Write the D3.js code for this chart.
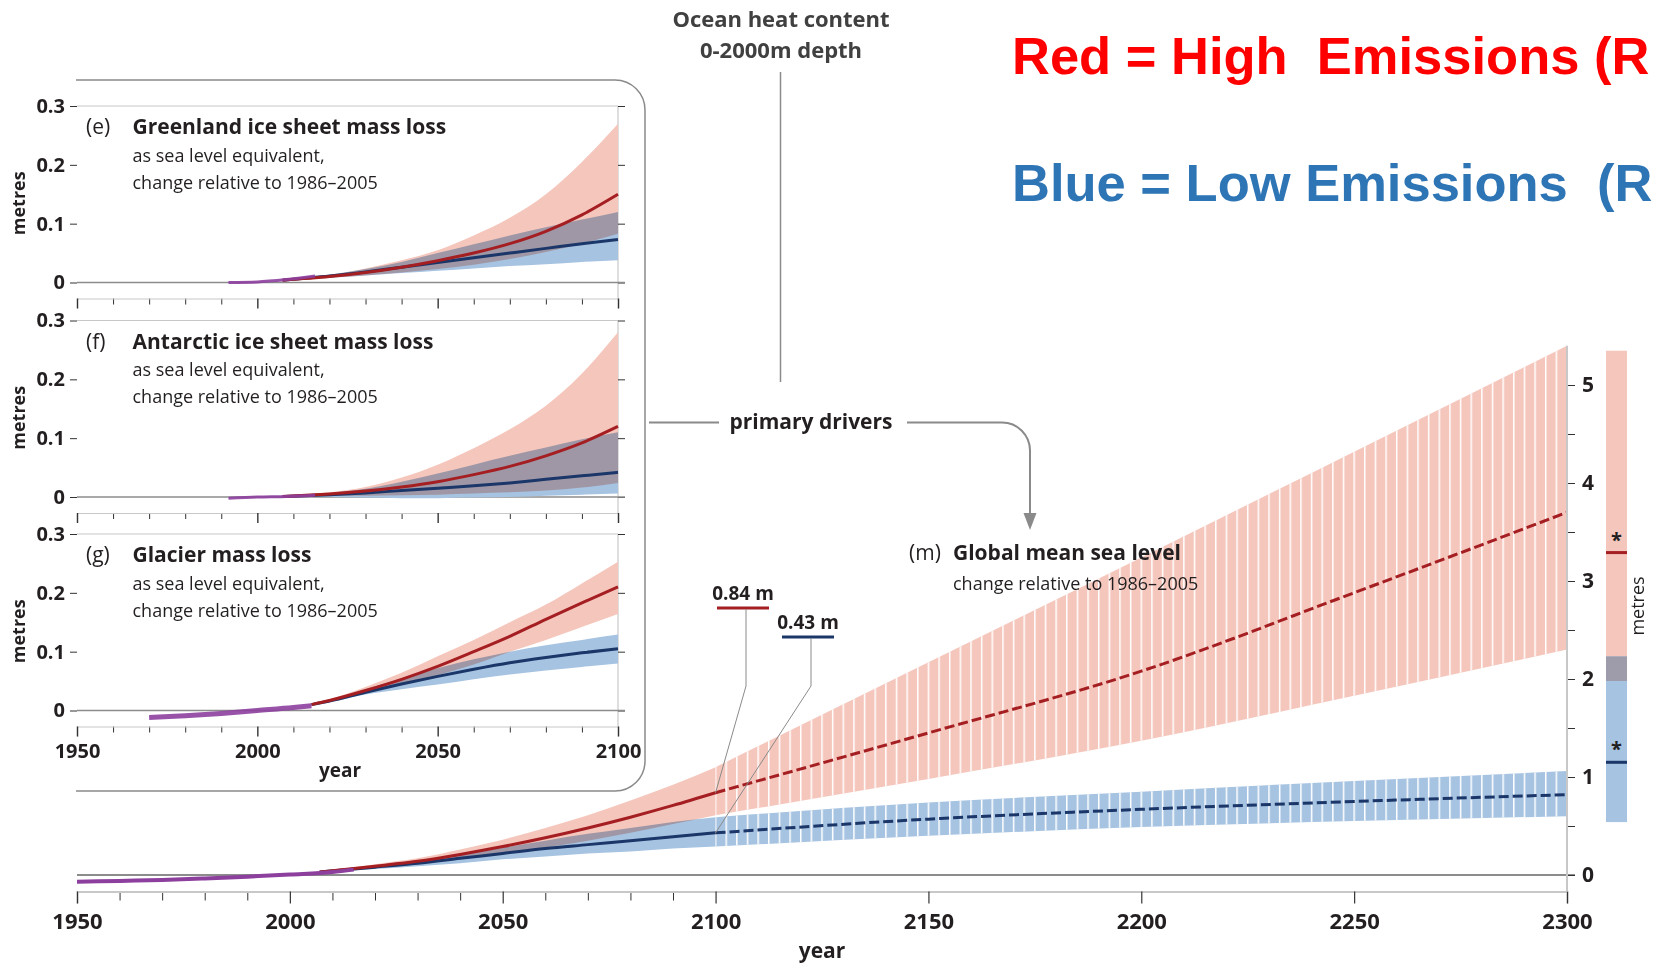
<!DOCTYPE html>
<html><head><meta charset="utf-8">
<script src="https://cdn.jsdelivr.net/npm/d3@7"></script>
<style>
html,body{margin:0;padding:0;background:#fff;overflow:hidden;}
svg{display:block;font-family:"Open Sans","Noto Sans",sans-serif;}
</style></head><body>
<svg id="chart" width="1654" height="963"></svg>
<script>
// ---------------- DATA ----------------
// (m) Global mean sea level – observations
const gmslObsYears  = [1950,1960,1970,1980,1990,2000,2010,2015];
const gmslObsValues = [-0.07,-0.06,-0.05,-0.035,-0.017,0.005,0.03,0.055];
// projections to 2100
const gmslYears   = [2007,2020,2030,2040,2050,2060,2070,2080,2090,2100];
const gmslHighMed = [0.03,0.09,0.14,0.21,0.29,0.38,0.48,0.59,0.71,0.84];
const gmslHighLo  = [0.03,0.07,0.11,0.16,0.22,0.28,0.35,0.43,0.52,0.61];
const gmslHighHi  = [0.03,0.11,0.17,0.26,0.36,0.48,0.61,0.76,0.92,1.10];
const gmslLowMed  = [0.03,0.08,0.12,0.17,0.22,0.27,0.31,0.35,0.39,0.43];
const gmslLowLo   = [0.03,0.06,0.09,0.12,0.16,0.19,0.22,0.24,0.27,0.29];
const gmslLowHi   = [0.03,0.10,0.15,0.21,0.28,0.35,0.42,0.48,0.54,0.59];
// extension 2100–2300
const extYears    = [2100,2150,2200,2250,2300];
const extHighMed  = [0.84,1.45,2.08,2.88,3.70];
const extHighLo   = [0.61,0.98,1.37,1.83,2.30];
const extHighHi   = [1.10,2.17,3.24,4.32,5.40];
const extLowMed   = [0.43,0.57,0.67,0.75,0.82];
const extLowLo    = [0.29,0.40,0.49,0.55,0.60];
const extLowHi    = [0.59,0.74,0.85,0.96,1.06];
// right-hand bar (metres)
const barHighRange = [1.98,5.35];
const barLowRange  = [0.54,2.23];
const barHighMark  = 3.29;
const barLowMark   = 1.15;
// axis ticks
const mainMajorTicks = [1950,2000,2050,2100,2150,2200,2250,2300];
const mainMinorTicks = [1960,1970,1980,1990,2010,2020,2030,2040,2060,2070,2080,2090];
const mainYTicks     = [0,1,2,3,4,5];
const mainYMinor     = [0.5,1.5,2.5,3.5,4.5];
const insetMajorTicks = [1950,2000,2050,2100];
const insetMinorTicks = [1960,1970,1980,1990,2010,2020,2030,2040,2060,2070,2080,2090];
const insetYTicks     = [0,0.1,0.2,0.3];

// (e) Greenland
const grYears   = [2007,2020,2030,2040,2050,2060,2070,2080,2090,2100];
const grHighMed = [0.004,0.010,0.017,0.026,0.037,0.050,0.066,0.087,0.115,0.150];
const grHighLo  = [0.004,0.008,0.012,0.017,0.023,0.030,0.040,0.052,0.066,0.083];
const grHighHi  = [0.004,0.013,0.024,0.038,0.055,0.080,0.110,0.150,0.205,0.270];
const grLowMed  = [0.004,0.011,0.018,0.026,0.034,0.042,0.050,0.058,0.066,0.073];
const grLowLo   = [0.004,0.008,0.012,0.016,0.020,0.024,0.028,0.031,0.035,0.038];
const grLowHi   = [0.004,0.013,0.023,0.035,0.050,0.065,0.080,0.094,0.107,0.120];
const grObsYears  = [1992,2000,2008,2016];
const grObsValues = [0.000,0.001,0.005,0.011];
// (f) Antarctic
const anYears   = [2007,2020,2030,2040,2050,2060,2070,2080,2090,2100];
const anHighMed = [0.001,0.005,0.010,0.017,0.026,0.038,0.052,0.070,0.092,0.120];
const anHighLo  = [0.001,0.002,0.002,0.003,0.004,0.006,0.008,0.011,0.016,0.024];
const anHighHi  = [0.001,0.008,0.017,0.033,0.055,0.083,0.115,0.155,0.210,0.280];
const anLowMed  = [0.001,0.004,0.007,0.011,0.015,0.019,0.024,0.030,0.036,0.042];
const anLowLo   = [0.001,0.000,-0.001,-0.002,-0.002,-0.001,0.000,0.002,0.004,0.006];
const anLowHi   = [0.001,0.007,0.014,0.026,0.040,0.055,0.070,0.084,0.098,0.110];
const anObsYears  = [1992,2000,2008,2016];
const anObsValues = [-0.002,0.000,0.001,0.003];
// (g) Glaciers
const glYears   = [2015,2020,2030,2040,2050,2060,2070,2080,2090,2100];
const glHighMed = [0.010,0.017,0.034,0.053,0.075,0.100,0.126,0.155,0.183,0.210];
const glHighLo  = [0.010,0.015,0.029,0.044,0.060,0.078,0.100,0.120,0.142,0.164];
const glHighHi  = [0.010,0.019,0.040,0.064,0.092,0.120,0.150,0.180,0.216,0.253];
const glLowMed  = [0.010,0.016,0.031,0.045,0.058,0.070,0.081,0.090,0.098,0.105];
const glLowLo   = [0.010,0.014,0.027,0.036,0.044,0.053,0.061,0.068,0.074,0.080];
const glLowHi   = [0.010,0.018,0.036,0.055,0.072,0.087,0.100,0.111,0.120,0.129];
const glObsYears  = [1970,1980,1990,2000,2010,2015];
const glObsValues = [-0.012,-0.009,-0.005,0.000,0.005,0.008];

const panels = [
  {tag:"(e)", title:"Greenland ice sheet mass loss", years:grYears, hMed:grHighMed, hLo:grHighLo, hHi:grHighHi, lMed:grLowMed, lLo:grLowLo, lHi:grLowHi, obsY:grObsYears, obsV:grObsValues, obsW:3},
  {tag:"(f)", title:"Antarctic ice sheet mass loss", years:anYears, hMed:anHighMed, hLo:anHighLo, hHi:anHighHi, lMed:anLowMed, lLo:anLowLo, lHi:anLowHi, obsY:anObsYears, obsV:anObsValues, obsW:3},
  {tag:"(g)", title:"Glacier mass loss", years:glYears, hMed:glHighMed, hLo:glHighLo, hHi:glHighHi, lMed:glLowMed, lLo:glLowLo, lHi:glLowHi, obsY:glObsYears, obsV:glObsValues, obsW:5}
];

// ---------------- STYLE ----------------
const C = {redBand:"#f5c6bc", blueBand:"#a6c3e1", redLine:"#a41e22", blueLine:"#1b3668",
           purple:"#8d3f9e", light:"#c8c8c8", axis:"#8c8c8c", text:"#231f20", conn:"#8a8a8a"};

const svg = d3.select("#chart");
const defs = svg.append("defs");

const pts = (ys, vs) => ys.map((y,i)=>({x:y, v:vs[i]}));
const band = (ys, lo, hi) => ys.map((y,i)=>({x:y, lo:lo[i], hi:hi[i]}));

// ---------------- MAIN CHART ----------------
const xMain = d3.scaleLinear().domain([1950,2300]).range([77,1567]);
const yMain = d3.scaleLinear().domain([0,5]).range([875,385]);
const axisY = 891.5;

const main = svg.append("g");
const minorAx = main.append("g").attr("transform",`translate(0,${axisY})`)
  .call(d3.axisBottom(xMain).tickValues(mainMinorTicks).tickSize(9).tickFormat(""));
minorAx.select(".domain").remove();
minorAx.selectAll("line").attr("stroke","#333").attr("stroke-width",1);
const majorAx = main.append("g").attr("transform",`translate(0,${axisY})`)
  .call(d3.axisBottom(xMain).tickValues(mainMajorTicks).tickSize(12).tickFormat(d3.format("d")));
majorAx.select(".domain").attr("stroke",C.light).attr("stroke-width",2);
majorAx.selectAll("line").attr("stroke","#333").attr("stroke-width",1.2);
majorAx.selectAll("text").attr("y",30).attr("dy","0.35em")
  .attr("font-size",22).attr("font-weight",700).attr("fill",C.text).attr("font-family","Open Sans");
main.append("text").attr("x",(xMain(1950)+xMain(2300))/2).attr("y",951).attr("dy","0.35em")
  .attr("text-anchor","middle").attr("font-size",21).attr("font-weight",700).attr("fill",C.text).text("year");

main.append("line").attr("x1",xMain(1950)).attr("x2",xMain(2300)+8)
  .attr("y1",yMain(0)).attr("y2",yMain(0)).attr("stroke",C.axis).attr("stroke-width",2);

const areaMain = d3.area().x(d=>xMain(d.x)).y0(d=>yMain(d.lo)).y1(d=>yMain(d.hi)).curve(d3.curveMonotoneX);
const lineMain = d3.line().x(d=>xMain(d.x)).y(d=>yMain(d.v)).curve(d3.curveMonotoneX);
const bandG = main.append("g").style("isolation","isolate");
bandG.append("path").attr("d",areaMain(band(gmslYears,gmslHighLo,gmslHighHi))).attr("fill",C.redBand).style("mix-blend-mode","multiply");
bandG.append("path").attr("d",areaMain(band(gmslYears,gmslLowLo,gmslLowHi))).attr("fill",C.blueBand).style("mix-blend-mode","multiply");
const stripeW = xMain(2102.5)-xMain(2100);
const pat = defs.append("pattern").attr("id","stripes").attr("patternUnits","userSpaceOnUse")
  .attr("x",xMain(2100)-0.75).attr("y",0).attr("width",stripeW).attr("height",20);
pat.append("rect").attr("x",0).attr("y",0).attr("width",1.5).attr("height",20).attr("fill","#fff");
const extHighBand = areaMain(band(extYears,extHighLo,extHighHi));
const extLowBand  = areaMain(band(extYears,extLowLo,extLowHi));
main.append("path").attr("d",extHighBand).attr("fill",C.redBand);
main.append("path").attr("d",extLowBand).attr("fill",C.blueBand);
main.append("path").attr("d",extHighBand).attr("fill","url(#stripes)");
main.append("path").attr("d",extLowBand).attr("fill","url(#stripes)");

main.append("path").attr("d",lineMain(pts(gmslYears,gmslLowMed))).attr("fill","none").attr("stroke",C.blueLine).attr("stroke-width",3);
main.append("path").attr("d",lineMain(pts(gmslYears,gmslHighMed))).attr("fill","none").attr("stroke",C.redLine).attr("stroke-width",3);
main.append("path").attr("d",lineMain(pts(extYears,extLowMed))).attr("fill","none").attr("stroke",C.blueLine).attr("stroke-width",3).attr("stroke-dasharray","10,4");
main.append("path").attr("d",lineMain(pts(extYears,extHighMed))).attr("fill","none").attr("stroke",C.redLine).attr("stroke-width",3).attr("stroke-dasharray","10,4");
main.append("path").attr("d",lineMain(pts(gmslObsYears,gmslObsValues))).attr("fill","none").attr("stroke",C.purple).attr("stroke-width",4);

// right axis
main.append("line").attr("x1",xMain(2300)).attr("x2",xMain(2300)).attr("y1",axisY).attr("y2",yMain(extHighHi[extHighHi.length-1]))
  .attr("stroke",C.light).attr("stroke-width",2);
const rMinor = main.append("g").attr("transform",`translate(${xMain(2300)+1},0)`)
  .call(d3.axisRight(yMain).tickValues(mainYMinor).tickSize(7).tickFormat(""));
rMinor.select(".domain").remove();
rMinor.selectAll("line").attr("stroke","#333");
const rMajor = main.append("g").attr("transform",`translate(${xMain(2300)+1},0)`)
  .call(d3.axisRight(yMain).tickValues(mainYTicks).tickSize(7).tickPadding(7).tickFormat(d3.format("d")));
rMajor.select(".domain").remove();
rMajor.selectAll("line").attr("stroke","#333");
rMajor.selectAll("text").attr("font-size",21).attr("font-weight",700).attr("fill",C.text).attr("font-family","Open Sans");

// right bar
const barX = 1606, barW = 21;
const ov = [Math.max(barHighRange[0],barLowRange[0]), Math.min(barHighRange[1],barLowRange[1])];
main.append("rect").attr("x",barX).attr("width",barW).attr("y",yMain(barHighRange[1])).attr("height",yMain(barHighRange[0])-yMain(barHighRange[1])).attr("fill",C.redBand);
main.append("rect").attr("x",barX).attr("width",barW).attr("y",yMain(barLowRange[1])).attr("height",yMain(barLowRange[0])-yMain(barLowRange[1])).attr("fill",C.blueBand);
main.append("rect").attr("x",barX).attr("width",barW).attr("y",yMain(ov[1])).attr("height",yMain(ov[0])-yMain(ov[1])).attr("fill","#9e9bab");
[[barHighMark,C.redLine],[barLowMark,C.blueLine]].forEach(([v,c])=>{
  main.append("line").attr("x1",barX).attr("x2",barX+barW).attr("y1",yMain(v)).attr("y2",yMain(v)).attr("stroke",c).attr("stroke-width",3);
  main.append("text").attr("x",barX+barW/2).attr("y",yMain(v)-6).attr("text-anchor","middle").attr("font-size",20).attr("font-weight",700).attr("fill",C.text).text("*");
});
main.append("text").attr("transform","translate(1638,606) rotate(-90)").attr("text-anchor","middle").attr("dy","0.35em")
  .attr("font-size",18).attr("font-weight",500).attr("fill",C.text).text("metres");

// 2100 call-outs
const hi2100 = gmslHighMed[gmslHighMed.length-1], lo2100 = gmslLowMed[gmslLowMed.length-1];
function callout(val, lx, ly, col){
  const ux1 = lx-26, ux2 = lx+26, uy = ly+15;
  main.append("text").attr("x",lx).attr("y",ly).attr("dy","0.35em").attr("text-anchor","middle")
    .attr("font-size",19).attr("font-weight",700).attr("fill",C.text).text(d3.format(".2f")(val)+" m");
  main.append("line").attr("x1",ux1).attr("x2",ux2).attr("y1",uy).attr("y2",uy).attr("stroke",col).attr("stroke-width",3);
  main.append("path").attr("d",`M${lx+3},${uy+1} V686 L${xMain(2100)},${yMain(val)}`).attr("fill","none").attr("stroke",C.conn).attr("stroke-width",1);
}
callout(hi2100, 743, 593, C.redLine);
callout(lo2100, 808, 622, C.blueLine);

// panel (m) title
main.append("text").attr("x",909).attr("y",553).attr("dy","0.35em").attr("font-size",21).attr("fill",C.text).text("(m)");
main.append("text").attr("x",953).attr("y",553).attr("dy","0.35em").attr("font-size",21).attr("font-weight",700).attr("fill",C.text).text("Global mean sea level");
main.append("text").attr("x",953).attr("y",584).attr("dy","0.35em").attr("font-size",18).attr("fill",C.text).text("change relative to 1986–2005");

// primary drivers connectors
svg.append("text").attr("x",811).attr("y",422).attr("dy","0.35em").attr("text-anchor","middle")
  .attr("font-size",21).attr("font-weight",700).attr("fill",C.text).text("primary drivers");
svg.append("line").attr("x1",649).attr("x2",719).attr("y1",422.5).attr("y2",422.5).attr("stroke",C.conn).attr("stroke-width",2);
svg.append("path").attr("d","M907,422.5 H1002 A28,28 0 0 1 1030,450.5 V515").attr("fill","none").attr("stroke",C.conn).attr("stroke-width",2);
svg.append("path").attr("d","M1023.5,513 L1036.5,513 L1030,530 Z").attr("fill",C.conn);

// ocean heat content
svg.append("text").attr("x",781).attr("y",19).attr("dy","0.35em").attr("text-anchor","middle").attr("font-size",22).attr("font-weight",700).attr("fill","#404040").text("Ocean heat content");
svg.append("text").attr("x",781).attr("y",50.5).attr("dy","0.35em").attr("text-anchor","middle").attr("font-size",22).attr("font-weight",700).attr("fill","#404040").text("0-2000m depth");
svg.append("line").attr("x1",780.5).attr("x2",780.5).attr("y1",72).attr("y2",382).attr("stroke",C.conn).attr("stroke-width",1.5);

// big headings (as visible in the reference, which ends at the right edge)
svg.append("text").attr("x",1012).attr("y",74).style("white-space","pre").attr("font-family","'Liberation Sans',Arial,sans-serif")
  .attr("font-size",52.5).attr("font-weight",700).attr("fill","#ff0000").text("Red = High  Emissions (R");
svg.append("text").attr("x",1012).attr("y",201).style("white-space","pre").attr("font-family","'Liberation Sans',Arial,sans-serif")
  .attr("font-size",52.5).attr("font-weight",700).attr("fill","#2e75b6").text("Blue = Low Emissions  (R");

// ---------------- INSET PANELS ----------------
svg.append("path").attr("d","M76,80 H615 A30,30 0 0 1 645,110 V761 A30,30 0 0 1 615,791 H76")
  .attr("fill","none").attr("stroke",C.conn).attr("stroke-width",1.5);

const xIn = d3.scaleLinear().domain([1950,2100]).range([77,618]);
const panelTops = [106,320.5,534];
const panelH = 176.5;

panels.forEach((p,i)=>{
  const top = panelTops[i];
  const y = d3.scaleLinear().domain([0,0.3]).range([top+panelH, top]);
  const g = svg.append("g");
  const zeroY = y(0), axY = zeroY+16;
  g.append("line").attr("x1",xIn(1950)).attr("x2",xIn(2100)).attr("y1",y(0.3)).attr("y2",y(0.3)).attr("stroke",C.light).attr("stroke-width",1.2);
  g.append("line").attr("x1",xIn(2100)).attr("x2",xIn(2100)).attr("y1",y(0.3)).attr("y2",axY).attr("stroke",C.light).attr("stroke-width",1.2);
  const mi = g.append("g").attr("transform",`translate(0,${axY})`).call(d3.axisBottom(xIn).tickValues(insetMinorTicks).tickSize(6).tickFormat(""));
  mi.select(".domain").remove(); mi.selectAll("line").attr("stroke","#333");
  const ma = g.append("g").attr("transform",`translate(0,${axY})`).call(d3.axisBottom(xIn).tickValues(insetMajorTicks).tickSize(10).tickFormat(i===2?d3.format("d"):""));
  ma.select(".domain").attr("stroke",C.light).attr("stroke-width",1.2);
  ma.selectAll("line").attr("stroke","#333").attr("stroke-width",1.4);
  ma.selectAll("text").attr("y",24).attr("dy","0.35em").attr("font-size",20).attr("font-weight",700).attr("fill",C.text).attr("font-family","Open Sans");
  const la = g.append("g").attr("transform",`translate(${xIn(1950)},0)`).call(d3.axisLeft(y).tickValues(insetYTicks).tickSize(7).tickPadding(5).tickFormat(d=>d===0?"0":d3.format(".1f")(d)));
  la.select(".domain").remove(); la.selectAll("line").attr("stroke","#333");
  la.selectAll("text").attr("font-size",20).attr("font-weight",700).attr("fill",C.text).attr("font-family","Open Sans");
  const ra = g.append("g").attr("transform",`translate(${xIn(2100)},0)`).call(d3.axisRight(y).tickValues(insetYTicks).tickSize(7).tickFormat(""));
  ra.select(".domain").remove(); ra.selectAll("line").attr("stroke","#333");
  g.append("line").attr("x1",xIn(1950)).attr("x2",xIn(2100)+7).attr("y1",zeroY).attr("y2",zeroY).attr("stroke",C.axis).attr("stroke-width",1.5);
  const area = d3.area().x(d=>xIn(d.x)).y0(d=>y(d.lo)).y1(d=>y(d.hi)).curve(d3.curveMonotoneX);
  const line = d3.line().x(d=>xIn(d.x)).y(d=>y(d.v)).curve(d3.curveMonotoneX);
  const bg = g.append("g").style("isolation","isolate");
  bg.append("path").attr("d",area(band(p.years,p.hLo,p.hHi))).attr("fill",C.redBand).style("mix-blend-mode","multiply");
  bg.append("path").attr("d",area(band(p.years,p.lLo,p.lHi))).attr("fill",C.blueBand).style("mix-blend-mode","multiply");
  g.append("path").attr("d",line(pts(p.years,p.lMed))).attr("fill","none").attr("stroke",C.blueLine).attr("stroke-width",3);
  g.append("path").attr("d",line(pts(p.years,p.hMed))).attr("fill","none").attr("stroke",C.redLine).attr("stroke-width",3);
  g.append("path").attr("d",line(pts(p.obsY,p.obsV))).attr("fill","none").attr("stroke",C.purple).attr("stroke-width",p.obsW).attr("stroke-opacity",0.9);
  g.append("text").attr("x",86).attr("y",top+21).attr("dy","0.35em").attr("font-size",21).attr("fill",C.text).text(p.tag);
  g.append("text").attr("x",132.5).attr("y",top+21).attr("dy","0.35em").attr("font-size",21).attr("font-weight",700).attr("fill",C.text).text(p.title);
  g.append("text").attr("x",132.5).attr("y",top+49.5).attr("dy","0.35em").attr("font-size",18).attr("fill",C.text).text("as sea level equivalent,");
  g.append("text").attr("x",132.5).attr("y",top+76.5).attr("dy","0.35em").attr("font-size",18).attr("fill",C.text).text("change relative to 1986–2005");
  g.append("text").attr("transform",`translate(19,${top+panelH/2+9}) rotate(-90)`).attr("dy","0.35em").attr("text-anchor","middle")
    .attr("font-size",18).attr("font-weight",700).attr("fill",C.text).text("metres");
});
svg.append("text").attr("x",340).attr("y",770).attr("dy","0.35em").attr("text-anchor","middle").attr("font-size",19).attr("font-weight",700).attr("fill",C.text).text("year");
</script>
</body></html>
